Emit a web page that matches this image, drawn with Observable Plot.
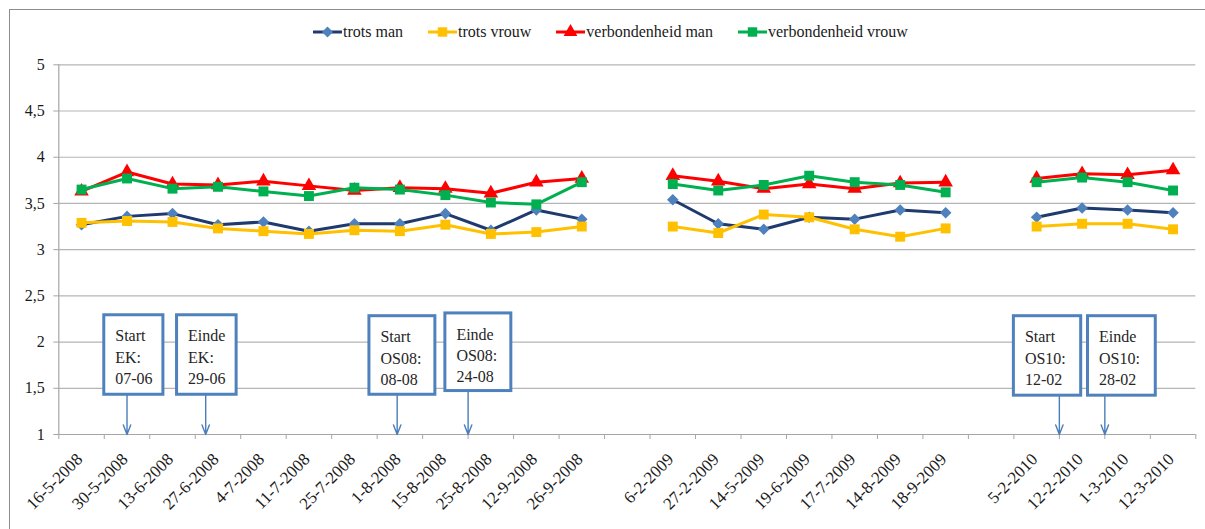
<!DOCTYPE html>
<html>
<head>
<meta charset="utf-8">
<style>
  html, body { margin: 0; padding: 0; background: #fff; }
  #wrap { position: relative; width: 1205px; height: 529px; background: #fff; }
  #frame { position: absolute; left: 9px; top: 9px; width: 1196px; height: 520px; border-left: 1.5px solid #8c8c8c; border-top: 1.5px solid #8c8c8c; box-sizing: border-box; pointer-events: none; }
  #legend { position: absolute; left: 313px; top: 20px; height: 24px; display: flex; align-items: center; gap: 25px; font-size: 16px; color: #1a1a1a; white-space: nowrap; }
  #legend .item { display: flex; align-items: center; gap: 1px; }
  #chart { position: absolute; left: 0; top: 50px; }
</style>
</head>
<body style="font-family:'Times New Roman'">
<div id="wrap" style="font-family:'Times New Roman'">
  <div id="legend" style="font-family:'Times New Roman'"></div>
  <div id="chart"></div>
  <div id="frame"></div>
</div>
<script src="https://cdn.jsdelivr.net/npm/d3@7"></script>
<script src="https://cdn.jsdelivr.net/npm/@observablehq/plot@0.6"></script>
<script>
// ---- data ----
const categories = ["16-5-2008","30-5-2008","13-6-2008","27-6-2008","4-7-2008","11-7-2008","25-7-2008","1-8-2008","15-8-2008","25-8-2008","12-9-2008","26-9-2008","",
  "6-2-2009","27-2-2009","14-5-2009","19-6-2009","17-7-2009","14-8-2009","18-9-2009","",
  "5-2-2010","12-2-2010","1-3-2010","12-3-2010"];
const seriesNames = ["trots man","trots vrouw","verbondenheid man","verbondenheid vrouw"];
const trotsMan   = [3.27,3.36,3.39,3.27,3.30,3.20,3.28,3.28,3.39,3.21,3.43,3.33,null,3.54,3.28,3.22,3.35,3.33,3.43,3.40,null,3.35,3.45,3.43,3.40];
const trotsVrouw = [3.29,3.31,3.30,3.23,3.20,3.17,3.21,3.20,3.27,3.17,3.19,3.25,null,3.25,3.18,3.38,3.35,3.22,3.14,3.23,null,3.25,3.28,3.28,3.22];
const verbMan    = [3.63,3.84,3.71,3.70,3.74,3.69,3.64,3.67,3.66,3.61,3.73,3.77,null,3.80,3.74,3.66,3.71,3.66,3.72,3.73,null,3.77,3.82,3.81,3.86];
const verbVrouw  = [3.65,3.77,3.66,3.68,3.63,3.58,3.67,3.65,3.59,3.51,3.49,3.73,null,3.71,3.64,3.70,3.80,3.73,3.70,3.62,null,3.73,3.78,3.73,3.64];
const yTicks = [1,1.5,2,2.5,3,3.5,4,4.5,5];

// annotations (event markers)
const annoText = ["Start\nEK:\n07-06","Einde\nEK:\n29-06","Start\nOS08:\n08-08","Einde\nOS08:\n24-08","Start\nOS10:\n12-02","Einde\nOS10:\n28-02"];
const annoArrowX = [1.5, 3.23, 7.44, 9.0, 22, 23];
const annoBoxX1 = [1.0, 2.60, 6.83, 8.50, 21.0, 22.63];
const annoBoxX2 = [2.30, 3.91, 8.28, 9.95, 22.48, 24.12];
const annoBoxTop = [2.29, 2.29, 2.28, 2.31, 2.28, 2.28];
const annoBoxBottom = [1.43, 1.43, 1.43, 1.47, 1.42, 1.42];

// ---- styles ----
const FONT = "Times New Roman";
const styles = [
  {line: "#1F3A6E", fill: "#4F81BD", symbol: "diamond2", r: 5.2},
  {line: "#FFC000", fill: "#FFC000", symbol: "square", r: 5.6},
  {line: "#FF0000", fill: "#FF0000", symbol: "triangle", r: 5.4},
  {line: "#00B050", fill: "#00B050", symbol: "square", r: 5.6}
];
const values = [trotsMan, trotsVrouw, verbMan, verbVrouw];

const rows = values.map(arr => arr.map((v, i) => ({x: i + 0.5, y: v})));
const annos = annoText.map((t, i) => ({text: t, ax: annoArrowX[i], x1: annoBoxX1[i], x2: annoBoxX2[i], top: annoBoxTop[i], bottom: annoBoxBottom[i]}));
const labelTicks = categories.map((c, i) => c ? i + 0.5 : null).filter(d => d !== null);

const seriesMarks = rows.flatMap((data, k) => [
  Plot.line(data, {x: "x", y: "y", stroke: styles[k].line, strokeWidth: 3}),
  Plot.dot(data.filter(d => d.y != null), {x: "x", y: "y", symbol: () => styles[k].symbol, fill: styles[k].fill, stroke: "none", r: styles[k].r})
]);

const chart = Plot.plot({
  width: 1205,
  height: 479,
  marginLeft: 58.3,
  marginRight: 9.7,
  marginTop: 14.3,
  marginBottom: 95,
  style: {fontFamily: FONT, fontSize: "16px", color: "#1a1a1a", background: "transparent", overflow: "visible"},
  x: {type: "linear", domain: [0, 25]},
  y: {domain: [1, 5]},
  symbol: {type: "identity"},
  marks: [
    Plot.gridY(yTicks.filter(d => d > 1), {stroke: "#b5b5b5", strokeOpacity: 1, strokeWidth: 1.2}),
    Plot.axisY({ticks: yTicks, tickFormat: d => String(d).replace(".", ","), tickSize: 5, tickPadding: 9, label: null, stroke: "#a6a6a6", fontSize: 16}),
    Plot.axisX({ticks: d3.range(26), tickSize: 5, tickFormat: () => "", label: null, stroke: "#a6a6a6"}),
    Plot.axisX({ticks: labelTicks, tickFormat: t => categories[Math.floor(t)], tickSize: 0, tickPadding: 22, dx: -2, tickRotate: -45, label: null, fontSize: 17}),
    Plot.ruleX([0], {stroke: "#a6a6a6", strokeWidth: 1.2}),
    Plot.ruleY([1], {stroke: "#a6a6a6", strokeWidth: 1.2}),
    ...seriesMarks,
    Plot.arrow(annos, {x1: "ax", x2: "ax", y1: "bottom", y2: () => 1, stroke: "#4A7EBB", strokeWidth: 1.4, headLength: 11, headAngle: 42}),
    Plot.rect(annos, {x1: "x1", x2: "x2", y1: "bottom", y2: "top", fill: "white", stroke: "#4F81BD", strokeWidth: 3}),
    Plot.text(annos, {x: "x1", y: "top", text: "text", textAnchor: "start", lineAnchor: "top", dx: 11, dy: 11, lineHeight: 1.33, fontSize: 16, fill: "#262626"})
  ]
});
document.getElementById("chart").appendChild(chart);

// ---- legend ----
const legend = document.getElementById("legend");
const symbolPath = (sym, r) => {
  const t = sym === "diamond2" ? d3.symbolDiamond2 : sym === "triangle" ? d3.symbolTriangle : d3.symbolSquare;
  return d3.symbol(t, Math.PI * r * r)();
};
seriesNames.forEach((name, k) => {
  const st = styles[k];
  const item = document.createElement("div");
  item.className = "item";
  item.innerHTML = `<svg width="29" height="16" viewBox="0 0 29 16"><line x1="0" x2="29" y1="8" y2="8" stroke="${st.line}" stroke-width="3"/><path d="${symbolPath(st.symbol, st.r * 0.95)}" transform="translate(14.5,8)" fill="${st.fill}"/></svg><span style="font-family:'Times New Roman'">${name}</span>`;
  legend.appendChild(item);
});
</script>
</body>
</html>
